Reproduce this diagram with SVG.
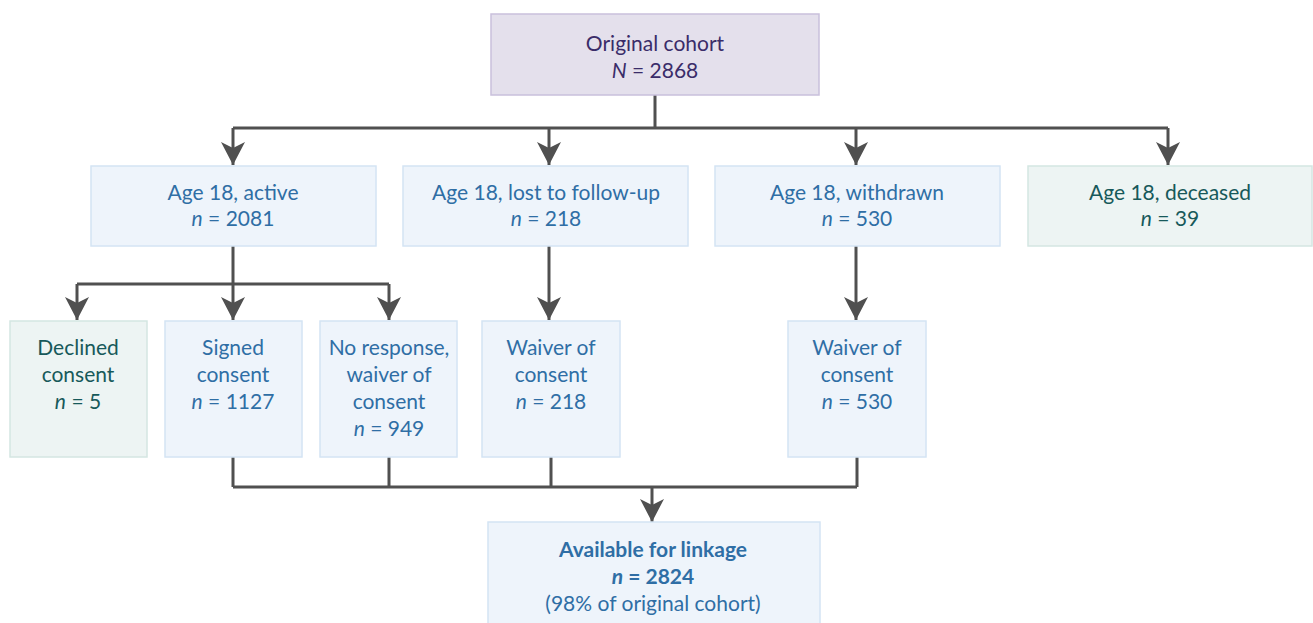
<svg xmlns="http://www.w3.org/2000/svg" width="1313" height="623" viewBox="0 0 1313 623">
<defs>
<marker id="arr" markerUnits="userSpaceOnUse" markerWidth="24" markerHeight="26" viewBox="0 0 24 26" refX="23" refY="13" orient="auto">
<path d="M0,1 L23,13 L0,25 L6,13 Z" fill="#505050"/>
</marker>
<style>
text{font-family:Lato,"Liberation Sans",sans-serif;font-size:21px;text-anchor:middle}
.blue rect{fill:#eef4fb;stroke:#d4e4f4;stroke-width:1.5}
.blue text{fill:#2f6ea5}
.green rect{fill:#edf4f3;stroke:#d4e6e2;stroke-width:1.5}
.green text{fill:#17595a}
.purple rect{fill:#e4e0ec;stroke:#c9c0dc;stroke-width:1.5}
.purple text{fill:#3a2c69}
.it{font-style:italic}
.b{font-weight:bold}
#connectors path{fill:none;stroke:#505050;stroke-width:3}
</style>
</defs>
<g id="connectors">
<path d="M655,95 V128 M233,128 H1168"/>
<path d="M233,128 V165" marker-end="url(#arr)"/>
<path d="M549,128 V165" marker-end="url(#arr)"/>
<path d="M856,128 V165" marker-end="url(#arr)"/>
<path d="M1168,128 V165" marker-end="url(#arr)"/>
<path d="M233,246 V284 M77,284 H389"/>
<path d="M77,284 V320" marker-end="url(#arr)"/>
<path d="M233,284 V320" marker-end="url(#arr)"/>
<path d="M389,284 V320" marker-end="url(#arr)"/>
<path d="M549,246 V320" marker-end="url(#arr)"/>
<path d="M856,246 V320" marker-end="url(#arr)"/>
<path d="M233,457 V487 M389,457 V487 M551,457 V487 M857,457 V487 M233,487 H857"/>
<path d="M652,487 V522" marker-end="url(#arr)"/>
</g>
<g id="n_original" class="purple">
<rect x="491" y="14" width="328" height="81"/>
<text x="655" y="51">Original cohort</text>
<text x="655" y="78"><tspan class="it">N</tspan> = 2868</text>
</g>
<g id="n_active" class="blue">
<rect x="91" y="166" width="285" height="80"/>
<text x="233" y="200">Age 18, active</text>
<text x="233" y="226"><tspan class="it">n</tspan> = 2081</text>
</g>
<g id="n_lost" class="blue">
<rect x="403" y="166" width="285" height="80"/>
<text x="546" y="200">Age 18, lost to follow-up</text>
<text x="546" y="226"><tspan class="it">n</tspan> = 218</text>
</g>
<g id="n_withdrawn" class="blue">
<rect x="715" y="166" width="285" height="80"/>
<text x="857" y="200">Age 18, withdrawn</text>
<text x="857" y="226"><tspan class="it">n</tspan> = 530</text>
</g>
<g id="n_deceased" class="green">
<rect x="1028" y="166" width="284" height="80"/>
<text x="1170" y="200">Age 18, deceased</text>
<text x="1170" y="226"><tspan class="it">n</tspan> = 39</text>
</g>
<g id="n_declined" class="green">
<rect x="10" y="321" width="137" height="136"/>
<text x="78" y="355">Declined</text>
<text x="78" y="382">consent</text>
<text x="78" y="409"><tspan class="it">n</tspan> = 5</text>
</g>
<g id="n_signed" class="blue">
<rect x="165" y="321" width="137" height="136"/>
<text x="233" y="355">Signed</text>
<text x="233" y="382">consent</text>
<text x="233" y="409"><tspan class="it">n</tspan> = 1127</text>
</g>
<g id="n_noresponse" class="blue">
<rect x="320" y="321" width="137" height="136"/>
<text x="389" y="355">No response,</text>
<text x="389" y="382">waiver of</text>
<text x="389" y="409">consent</text>
<text x="389" y="436"><tspan class="it">n</tspan> = 949</text>
</g>
<g id="n_waiver1" class="blue">
<rect x="482" y="321" width="138" height="136"/>
<text x="551" y="355">Waiver of</text>
<text x="551" y="382">consent</text>
<text x="551" y="409"><tspan class="it">n</tspan> = 218</text>
</g>
<g id="n_waiver2" class="blue">
<rect x="788" y="321" width="138" height="136"/>
<text x="857" y="355">Waiver of</text>
<text x="857" y="382">consent</text>
<text x="857" y="409"><tspan class="it">n</tspan> = 530</text>
</g>
<g id="n_linkage" class="blue">
<rect x="488" y="522" width="332" height="110"/>
<text x="653" y="557" class="b">Available for linkage</text>
<text x="653" y="584" class="b"><tspan class="it">n</tspan> = 2824</text>
<text x="653" y="611">(98% of original cohort)</text>
</g>
</svg>
